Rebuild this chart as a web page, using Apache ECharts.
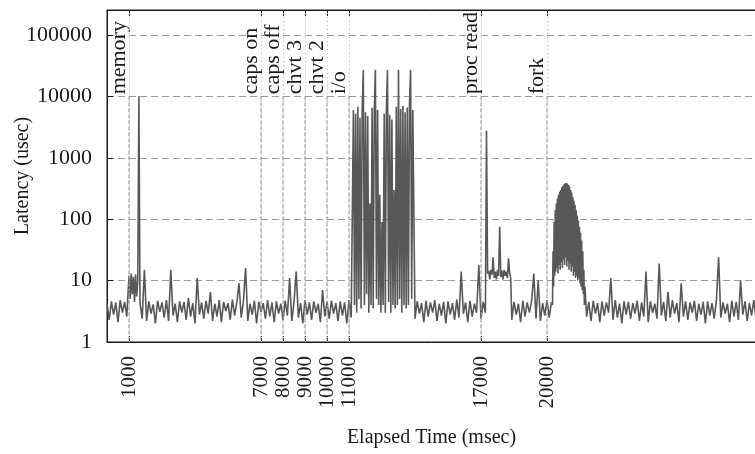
<!DOCTYPE html>
<html>
<head>
<meta charset="utf-8">
<script src="https://cdn.jsdelivr.net/npm/echarts@6/dist/echarts.min.js"></script>
<style>
  html, body { margin: 0; padding: 0; background: #fff; }
  #chart { width: 755px; height: 454px; }
</style>
</head>
<body>
<div id="chart"></div>
<script>
// Events that were triggered during the run (msec) and their names
const eventTimes = [1000, 7000, 8000, 9000, 10000, 11000, 17000, 20000];
const eventNames = ['memory', 'caps on', 'caps off', 'chvt 3', 'chvt 2', 'i/o', 'proc read', 'fork'];
const eventLevel = 10000;           // latency level where the event labels sit
const yTicks = [1, 10, 100, 1000, 10000, 100000];

// Latency samples (usec), grouped by phase of the run
const quietStart = [4.2, 2.3, 4.6, 2.8, 4.4, 2.1, 4.8, 3.0, 4.5, 2.6];               // 0 .. 900, every 100 ms
const memoryBurst = [12, 5, 13, 6, 11.5, 4.5, 12.5, 5.5, 10, 10000];                 // 1000 .. 1450, every 50 ms
const quietA = [                                                                     // 1500 .. 11100, every 100 ms
  4.3, 2.4, 15, 2.2, 4.6, 2.9, 4.1, 2.0, 4.7, 3.1,
  4.4, 2.5, 4.8, 2.2, 15, 2.7, 4.2, 2.1, 4.6, 3.0,
  4.5, 2.3, 5.2, 2.6, 4.3, 2.0, 11, 2.8, 4.4, 2.4,
  4.7, 2.9, 6.5, 2.2, 4.2, 2.6, 4.8, 2.1, 4.5, 3.2,
  4.3, 2.3, 4.9, 2.7, 4.4, 9, 2.5, 4.6, 16, 2.2,
  4.2, 2.8, 4.7, 2.0, 4.5, 3.1, 4.3, 2.4, 4.8, 2.6,
  4.4, 2.1, 4.6, 2.9, 4.2, 2.3, 4.7, 2.7, 11, 2.2,
  4.5, 14, 2.5, 4.3, 2.0, 4.8, 2.8, 4.4, 2.3, 4.6,
  3.0, 4.2, 2.1, 7, 2.6, 4.5, 2.4, 4.7, 2.9, 4.3,
  2.2, 4.6, 2.7, 4.4, 2.0, 4.8, 2.5
];
const ioBurst = [                                                                    // 11200 .. 13900, every 50 ms
  6000, 4, 5200, 3, 6800, 5, 4500, 3.5, 6200, 27000,
  4, 5500, 6, 4800, 3, 180, 4, 6500, 3.5, 5800,
  27000, 5, 6000, 4, 250, 3, 90, 4, 5200, 3,
  6400, 27000, 4.5, 5000, 3, 4200, 4, 300, 3.5, 6800,
  4, 27000, 5, 6200, 3, 7000, 4, 5500, 3.5, 6600,
  4, 7200, 27000, 5, 6000
];
const quietB = [                                                                     // 14000 .. 17100, every 100 ms
  2.4, 4.6, 2.9, 4.3, 2.1, 4.7, 2.6, 4.4, 3.0, 4.8,
  2.2, 4.2, 2.7, 4.5, 2.0, 4.6, 2.8, 4.3, 2.3, 4.9,
  2.5, 14, 2.9, 4.4, 2.1, 4.7, 2.6, 4.2, 3.0, 18,
  2.4, 4.5
];
const procRead = [                                                                   // 17200 .. 18350, every 50 ms
  3.0, 2750, 13, 14.5, 10.5, 15, 12.5, 24, 11, 14,
  10.5, 15, 12, 75, 11.5, 14.5, 10.5, 15, 12, 14,
  11, 23, 13.5, 11
];
const quietC = [                                                                     // 18400 .. 20200, every 100 ms
  2.3, 4.5, 2.8, 4.2, 2.1, 4.7, 2.6, 4.4, 3.0, 4.6,
  13, 2.4, 10, 2.2, 4.3, 2.7, 4.8, 2.5, 4.4
];
const forkHump = [                                                                   // 20250 .. 21725, every 25 ms
  4, 30, 8, 90, 12, 140, 14, 180, 16, 220,
  13, 250, 18, 280, 15, 300, 20, 330, 16, 350,
  22, 370, 18, 385, 24, 390, 17, 380, 21, 360,
  15, 340, 19, 300, 14, 270, 17, 230, 12, 200,
  14, 170, 11, 140, 12, 115, 10, 95, 11, 75,
  9, 60, 8, 45, 7, 30, 6, 15, 4, 8
];
const quietD = [                                                                     // 21800 .. 29500, every 100 ms
  2.6, 4.5, 2.2, 4.7, 2.9, 4.3, 2.1, 4.6, 2.7, 4.4,
  3.0, 11, 2.3, 4.8, 2.5, 4.2, 2.0, 4.6, 2.8, 4.5,
  2.4, 4.3, 2.9, 4.7, 2.2, 4.4, 2.6, 14, 2.1, 4.6,
  3.0, 4.2, 2.4, 19, 2.7, 4.5, 2.2, 6.5, 2.5, 4.8,
  2.9, 4.3, 2.1, 9, 2.6, 4.6, 2.3, 4.4, 3.0, 4.7,
  2.2, 4.2, 2.8, 4.5, 2.0, 4.6, 2.7, 4.3, 2.4, 4.8,
  24, 2.5, 4.4, 2.9, 4.2, 2.1, 4.7, 2.6, 4.5, 2.3,
  10, 2.8, 4.6, 2.2, 4.3, 2.7, 4.8, 2.4
];

// Sample start time and spacing (msec) of each phase
const phases = [
  [0, 100, quietStart],
  [1000, 50, memoryBurst],
  [1500, 100, quietA],
  [11200, 50, ioBurst],
  [14000, 100, quietB],
  [17200, 50, procRead],
  [18400, 100, quietC],
  [20250, 25, forkHump],
  [21800, 100, quietD]
];
const samples = [];
phases.forEach(([start, step, values]) => {
  values.forEach((v, i) => samples.push([start + i * step, v]));
});

const serif = '"Liberation Serif", "DejaVu Serif", serif';
const ink = '#1a1a1a';

const chart = echarts.init(document.getElementById('chart'), null, { renderer: 'canvas' });
chart.setOption({
  animation: false,
  backgroundColor: '#fff',
  grid: {
    left: 107, right: -1, top: 10, bottom: 112,
    outerBoundsMode: 'none',
    show: true, borderColor: ink, borderWidth: 1
  },
  xAxis: [{
    type: 'value', min: 0, max: 29500, position: 'bottom',
    axisLine: { show: true, onZero: false, lineStyle: { color: ink, width: 1 } },
    axisTick: { show: true, inside: true, length: 6, customValues: eventTimes, lineStyle: { color: ink } },
    axisLabel: {
      customValues: eventTimes, rotate: 90, margin: 14,
      fontFamily: serif, fontSize: 21, color: ink,
      formatter: v => String(v)
    },
    splitLine: { show: false },
    name: 'Elapsed Time (msec)', nameLocation: 'middle', nameGap: 86,
    nameTextStyle: { fontFamily: serif, fontSize: 20, color: ink }
  }, {
    type: 'value', min: 0, max: 29500, position: 'top',
    axisLine: { show: true, onZero: false, lineStyle: { color: ink, width: 1 } },
    axisTick: { show: true, inside: true, length: 6, customValues: eventTimes, lineStyle: { color: ink } },
    axisLabel: { show: false },
    splitLine: { show: false }
  }],
  yAxis: {
    type: 'log', logBase: 10, min: 1, max: 255000,
    axisLine: { show: true, lineStyle: { color: ink, width: 1 } },
    axisTick: { show: true, inside: true, length: 6, lineStyle: { color: ink } },
    axisLabel: {
      margin: 15, fontFamily: serif, fontSize: 22, color: ink,
      formatter: v => {
        const k = Math.round(Math.log10(v));
        return yTicks.includes(Math.pow(10, k)) && Math.abs(Math.log10(v) - k) < 1e-6 ? String(Math.pow(10, k)) : '';
      }
    },
    splitLine: { show: true, lineStyle: { color: '#9a9a9a', width: 1, type: [7, 4] } },
    name: 'Latency (usec)', nameLocation: 'middle', nameGap: 74, nameRotate: 90,
    nameMoveOverlap: false,
    nameTextStyle: { fontFamily: serif, fontSize: 20, color: ink }
  },
  series: [{
    name: 'latency',
    type: 'line',
    data: samples,
    symbol: 'none',
    showSymbol: false,
    lineStyle: { color: '#585858', width: 1.6 },
    z: 3,
    markLine: {
      silent: true, symbol: 'none',
      label: { show: false },
      lineStyle: { color: '#b5b5b5', width: 1, type: [1, 3] },
      data: eventTimes.map(t => ({ xAxis: t }))
    }
  }, {
    name: 'events',
    type: 'custom',
    data: eventTimes.map((t, i) => [t, eventLevel, i]),
    z: 4,
    renderItem: (params, api) => {
      const top = api.coord([api.value(0), api.value(1)]);
      const bottom = api.coord([api.value(0), 1]);
      return {
        type: 'group',
        children: [{
          type: 'line',
          shape: { x1: top[0], y1: top[1], x2: bottom[0], y2: bottom[1] },
          style: { stroke: '#8c8c8c', lineWidth: 1, lineDash: [4, 2] }
        }, {
          type: 'text',
          x: top[0] + 1, y: top[1] - 2,
          rotation: Math.PI / 2,
          style: {
            text: eventNames[api.value(2)],
            font: '22px ' + serif,
            fill: ink,
            align: 'left',
            verticalAlign: 'bottom'
          }
        }]
      };
    }
  }]
});
</script>
</body>
</html>
